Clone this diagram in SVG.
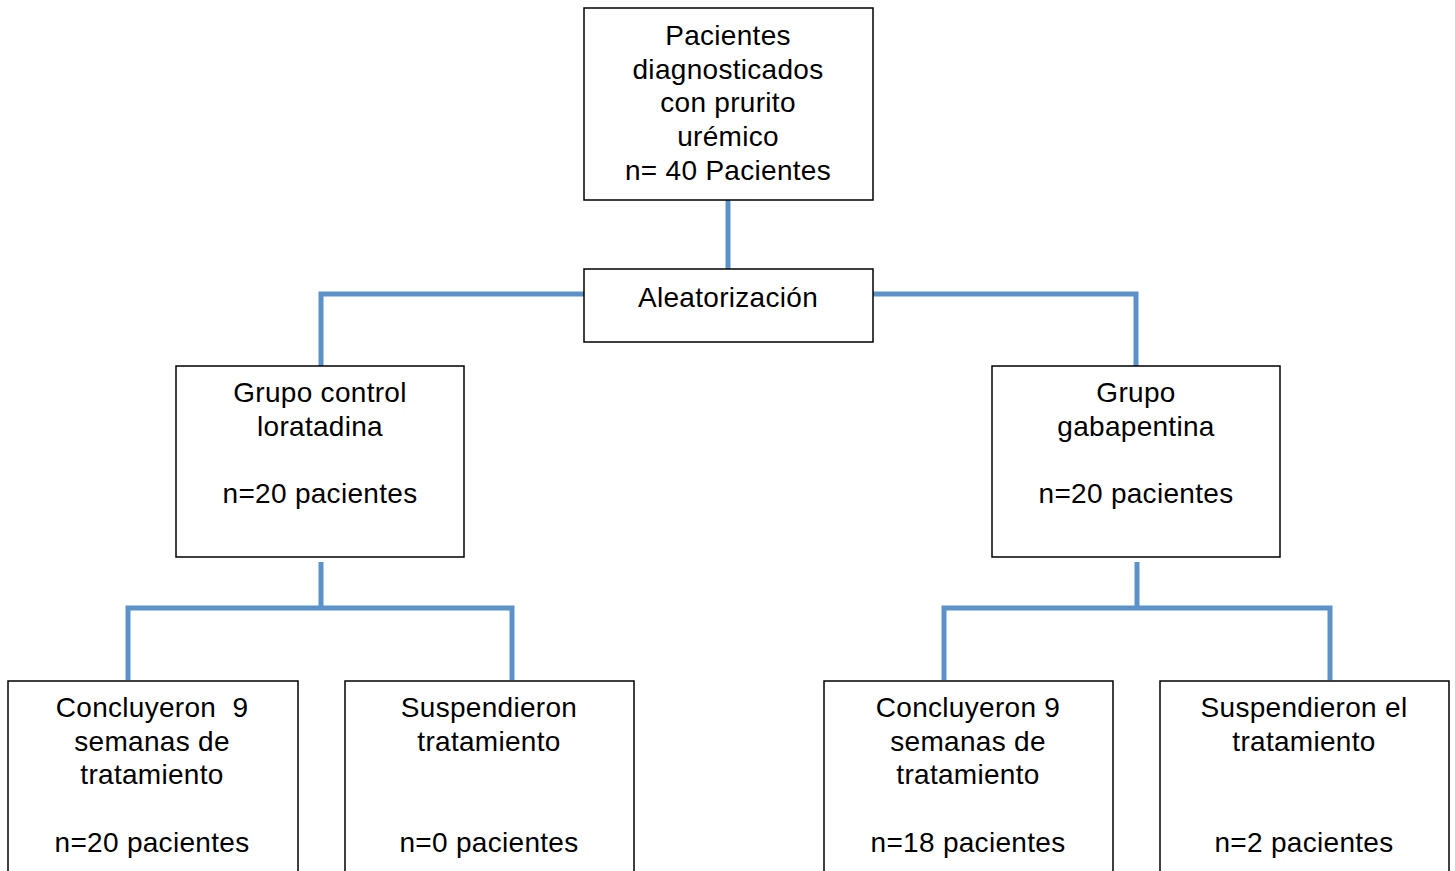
<svg xmlns="http://www.w3.org/2000/svg" width="1455" height="871" viewBox="0 0 1455 871">
<style>
.box{fill:#fff;stroke:#000;stroke-width:1.5}
.t{font-family:"Liberation Sans",Arial,sans-serif;font-size:28px;fill:#000;text-anchor:middle;letter-spacing:0.3px}
.c{fill:none;stroke:#5b92c9;stroke-width:5;stroke-linejoin:miter}
</style>
<rect width="1455" height="871" fill="#fff"/>
<g id="connectors">
<path class="c" d="M728,200 V269"/>
<path class="c" d="M584,294 H321 V366"/>
<path class="c" d="M873,294 H1136 V366"/>
<path class="c" d="M321,562 V608 M128,680 V608 H512 V680"/>
<path class="c" d="M1137,562 V608 M944,680 V608 H1330 V680"/>
</g>
<g id="n-top">
<rect class="box" x="584" y="8" width="289" height="192"/>
<text class="t" x="728" y="45">Pacientes</text>
<text class="t" x="728" y="79">diagnosticados</text>
<text class="t" x="728" y="112">con prurito</text>
<text class="t" x="728" y="146">urémico</text>
<text class="t" x="728" y="180">n= 40 Pacientes</text>
</g>
<g id="n-aleat">
<rect class="box" x="584" y="269" width="289" height="73"/>
<text class="t" x="728" y="307">Aleatorización</text>
</g>
<g id="n-control">
<rect class="box" x="176" y="366" width="288" height="191"/>
<text class="t" x="320" y="402">Grupo control</text>
<text class="t" x="320" y="436">loratadina</text>
<text class="t" x="320" y="503">n=20 pacientes</text>
</g>
<g id="n-gaba">
<rect class="box" x="992" y="366" width="288" height="191"/>
<text class="t" x="1136" y="402">Grupo</text>
<text class="t" x="1136" y="436">gabapentina</text>
<text class="t" x="1136" y="503">n=20 pacientes</text>
</g>
<g id="n-lc">
<rect class="box" x="8" y="681" width="290" height="220"/>
<text class="t" x="152" y="717" xml:space="preserve">Concluyeron  9</text>
<text class="t" x="152" y="751">semanas de</text>
<text class="t" x="152" y="784">tratamiento</text>
<text class="t" x="152" y="852">n=20 pacientes</text>
</g>
<g id="n-ls">
<rect class="box" x="345" y="681" width="289" height="220"/>
<text class="t" x="489" y="717">Suspendieron</text>
<text class="t" x="489" y="751">tratamiento</text>
<text class="t" x="489" y="852">n=0 pacientes</text>
</g>
<g id="n-gc">
<rect class="box" x="824" y="681" width="289" height="220"/>
<text class="t" x="968" y="717">Concluyeron 9</text>
<text class="t" x="968" y="751">semanas de</text>
<text class="t" x="968" y="784">tratamiento</text>
<text class="t" x="968" y="852">n=18 pacientes</text>
</g>
<g id="n-gs">
<rect class="box" x="1160" y="681" width="289" height="220"/>
<text class="t" x="1304" y="717">Suspendieron el</text>
<text class="t" x="1304" y="751">tratamiento</text>
<text class="t" x="1304" y="852">n=2 pacientes</text>
</g>
</svg>
